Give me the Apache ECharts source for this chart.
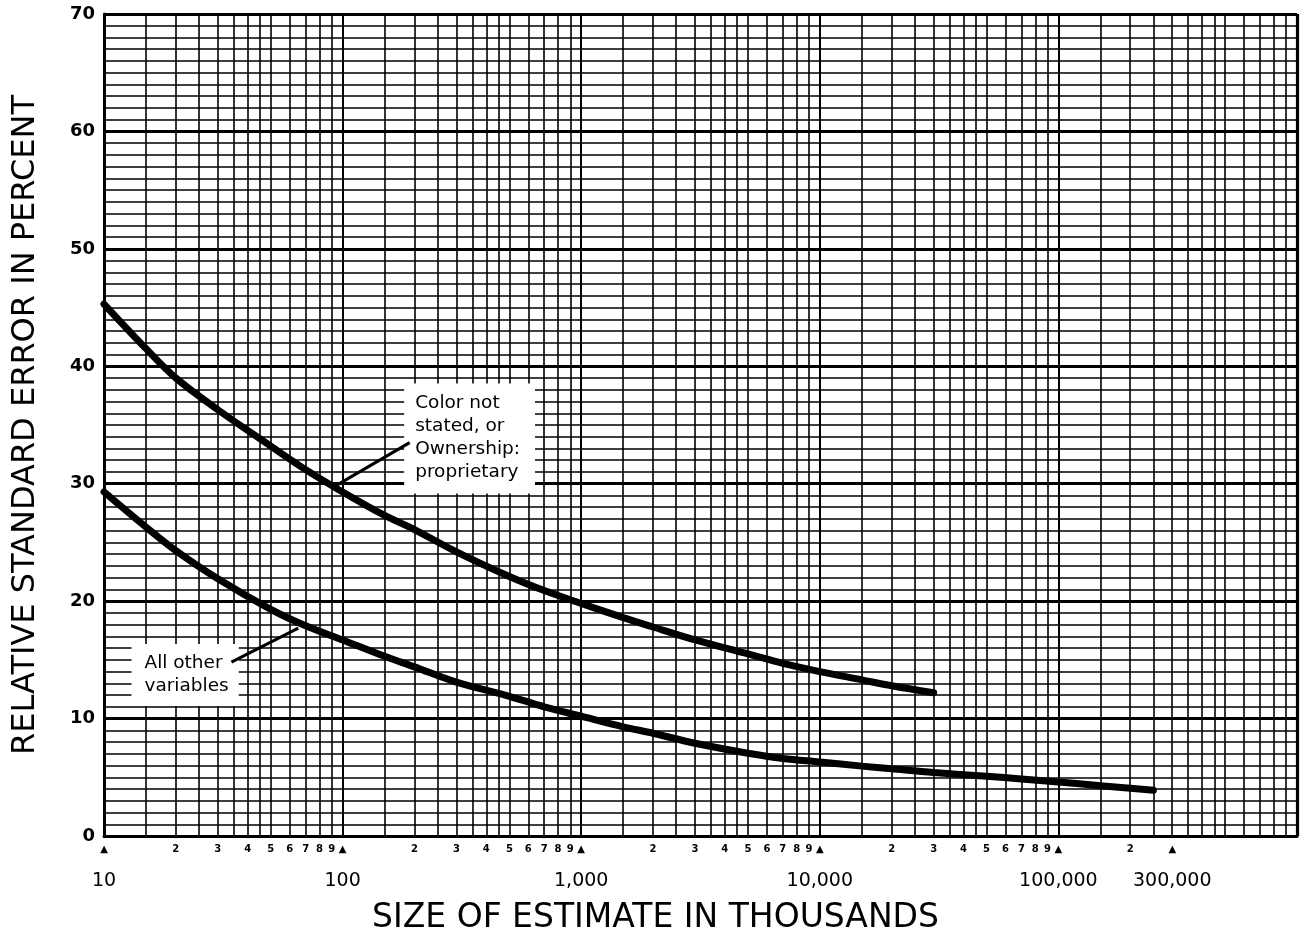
<!DOCTYPE html>
<html><head><meta charset="utf-8">
<script src="https://cdn.jsdelivr.net/npm/echarts@6/dist/echarts.min.js"></script>
<style>html,body{margin:0;padding:0;background:#fff}#c{width:1304px;height:940px}</style>
</head><body><div id="c"></div>
<script>
// ---- data ----
const upperX = [10, 15, 20, 30, 50, 70, 100, 150, 200, 300, 500, 700, 1000, 1500, 2000, 3000, 5000, 7000, 10000, 15000, 20000, 30000];
const upperY = [45.3, 41.5, 39.0, 36.3, 33.2, 31.2, 29.3, 27.3, 26.1, 24.2, 22.1, 20.9, 19.8, 18.6, 17.8, 16.7, 15.5, 14.7, 14.0, 13.3, 12.8, 12.2];
const upperLabel = 'Color not\nstated, or\nOwnership:\nproprietary';

const lowerX = [10, 15, 20, 30, 50, 70, 100, 150, 200, 300, 500, 700, 1000, 1500, 2000, 3000, 5000, 7000, 10000, 15000, 20000, 30000, 50000, 70000, 100000, 150000, 200000, 250000];
const lowerY = [29.3, 26.3, 24.3, 21.9, 19.3, 17.9, 16.7, 15.3, 14.4, 13.1, 11.9, 11.0, 10.2, 9.3, 8.75, 7.9, 7.05, 6.6, 6.3, 5.95, 5.72, 5.4, 5.08, 4.86, 4.6, 4.28, 4.07, 3.9];
const lowerLabel = 'All other\nvariables';

const gridDecades = [10, 100, 1000, 10000, 100000];
const gridMultiples = [1, 1.5, 2, 2.5, 3, 3.5, 4, 4.5, 5, 6, 7, 8, 9];
const axisMin = 10, axisMax = 1000000;

const majorTickValues = [10, 100, 1000, 10000, 100000, 300000];
const majorTickLabels = ['10', '100', '1,000', '10,000', '100,000', '300,000'];
const minorTickValues = [20, 30, 40, 50, 60, 70, 80, 90,
  200, 300, 400, 500, 600, 700, 800, 900,
  2000, 3000, 4000, 5000, 6000, 7000, 8000, 9000,
  20000, 30000, 40000, 50000, 60000, 70000, 80000, 90000,
  200000];
const minorTickLabels = ['2','3','4','5','6','7','8','9',
  '2','3','4','5','6','7','8','9',
  '2','3','4','5','6','7','8','9',
  '2','3','4','5','6','7','8','9',
  '2'];

const yTitle = 'RELATIVE STANDARD ERROR IN PERCENT';
const xTitle = 'SIZE OF ESTIMATE IN THOUSANDS';

// ---- chart ----
const FONT = 'DejaVu Sans';
const chart = echarts.init(document.getElementById('c'), null, {renderer: 'canvas'});

const gridLineData = [];
gridDecades.forEach(d => gridMultiples.forEach(m => {
  gridLineData.push(m === 1 ? {xAxis: d * m, lineStyle: {width: 2}} : {xAxis: d * m});
}));
gridLineData.push({xAxis: axisMax, lineStyle: {width: 3.2}});

const pairs = (xs, ys) => xs.map((x, i) => [x, ys[i]]);

const option = {
  animation: false,
  backgroundColor: '#fff',
  grid: {left: 104, right: 7, top: 14, bottom: 104, containLabel: false, outerBoundsMode: 'none'},
  xAxis: {
    type: 'log', logBase: 10, min: axisMin, max: axisMax,
    axisLine: {show: true, lineStyle: {color: '#000', width: 3}},
    axisTick: {show: false}, axisLabel: {show: false}, splitLine: {show: false},
    name: xTitle, nameLocation: 'middle', nameGap: 66,
    nameTextStyle: {fontFamily: FONT, fontSize: 33, color: '#000', padding: [0, 90, 0, 0]}
  },
  yAxis: {
    type: 'value', min: 0, max: 70, interval: 10,
    axisLine: {show: true, lineStyle: {color: '#000', width: 3}},
    axisTick: {show: false},
    axisLabel: {color: '#000', fontSize: 18, fontWeight: 'bold', fontFamily: FONT, margin: 9},
    splitLine: {show: true, lineStyle: {color: '#000', width: 3}},
    minorTick: {show: false, splitNumber: 10},
    minorSplitLine: {show: true, lineStyle: {color: '#000', width: 1.5}},
    name: yTitle, nameLocation: 'middle', nameGap: 62,
    nameTextStyle: {fontFamily: FONT, fontSize: 32, color: '#000', padding: [0, 0, 0, 0]}
  },
  series: [
    { // vertical log grid
      type: 'line', data: [], silent: true,
      markLine: {
        silent: true, z: 1, symbol: ['none', 'none'], animation: false,
        label: {show: false},
        lineStyle: {color: '#000', width: 1.6, type: 'solid'},
        emphasis: {disabled: true},
        data: gridLineData
      }
    },
    { // small digit tick labels
      type: 'line', data: [], silent: true,
      markLine: {
        silent: true, z: 1, symbol: ['none', 'none'], animation: false,
        lineStyle: {color: 'rgba(0,0,0,0)', width: 0},
        label: {show: true, position: 'start', distance: 8, formatter: '{b}', color: '#000',
          fontFamily: FONT, fontSize: 10, fontWeight: 'bold'},
        emphasis: {disabled: true},
        data: minorTickValues.map((v, i) => ({xAxis: v, name: minorTickLabels[i]}))
      }
    },
    { // major tick labels with triangles
      type: 'line', data: [], silent: true,
      markLine: {
        silent: true, z: 1, symbol: ['none', 'none'], animation: false,
        lineStyle: {color: 'rgba(0,0,0,0)', width: 0},
        label: {show: true, position: 'start', distance: 7, color: '#000',
          formatter: p => '{t|\u25B2}\n{m|' + p.name + '}',
          rich: {
            t: {fontFamily: FONT, fontSize: 10, lineHeight: 12, color: '#000'},
            m: {fontFamily: FONT, fontSize: 19, lineHeight: 52, color: '#000'}
          }},
        emphasis: {disabled: true},
        data: majorTickValues.map((v, i) => ({xAxis: v, name: majorTickLabels[i]}))
      }
    },
    {
      name: 'upper', type: 'line', z: 3, smooth: 0.35, symbol: 'none', silent: true,
      lineStyle: {color: '#000', width: 7, cap: 'round'},
      data: pairs(upperX, upperY)
    },
    {
      name: 'lower', type: 'line', z: 3, smooth: 0.35, symbol: 'none', silent: true,
      lineStyle: {color: '#000', width: 7, cap: 'round'},
      data: pairs(lowerX, lowerY)
    },
    { // annotation boxes
      type: 'scatter', z: 4, silent: true, symbolSize: 1,
      itemStyle: {color: 'rgba(0,0,0,0)', opacity: 1},
      label: {show: true, position: [0, 0], formatter: '{b}', backgroundColor: '#fff', opacity: 1,
        color: '#000', fontFamily: FONT, fontSize: 18.5, lineHeight: 23, align: 'left'},
      emphasis: {disabled: true},
      data: [
        {name: upperLabel, value: [182, 38.5], label: {padding: [8, 15, 10, 11]}},
        {name: lowerLabel, value: [13.1, 16.3], label: {padding: [8, 10, 8, 13]}}
      ]
    },
    { // arrows
      type: 'line', data: [], silent: true,
      markLine: {
        silent: true, z: 6, animation: false, symbol: ['none', 'arrow'], symbolSize: [0, 13],
        label: {show: false},
        lineStyle: {color: '#000', width: 3, type: 'solid'},
        emphasis: {disabled: true},
        data: [
          [{coord: [191, 33.5]}, {coord: [89.6, 29.6]}],
          [{coord: [34.2, 14.8]}, {coord: [65.2, 17.7]}]
        ]
      }
    }
  ]
};
chart.setOption(option);
</script>
</body></html>
